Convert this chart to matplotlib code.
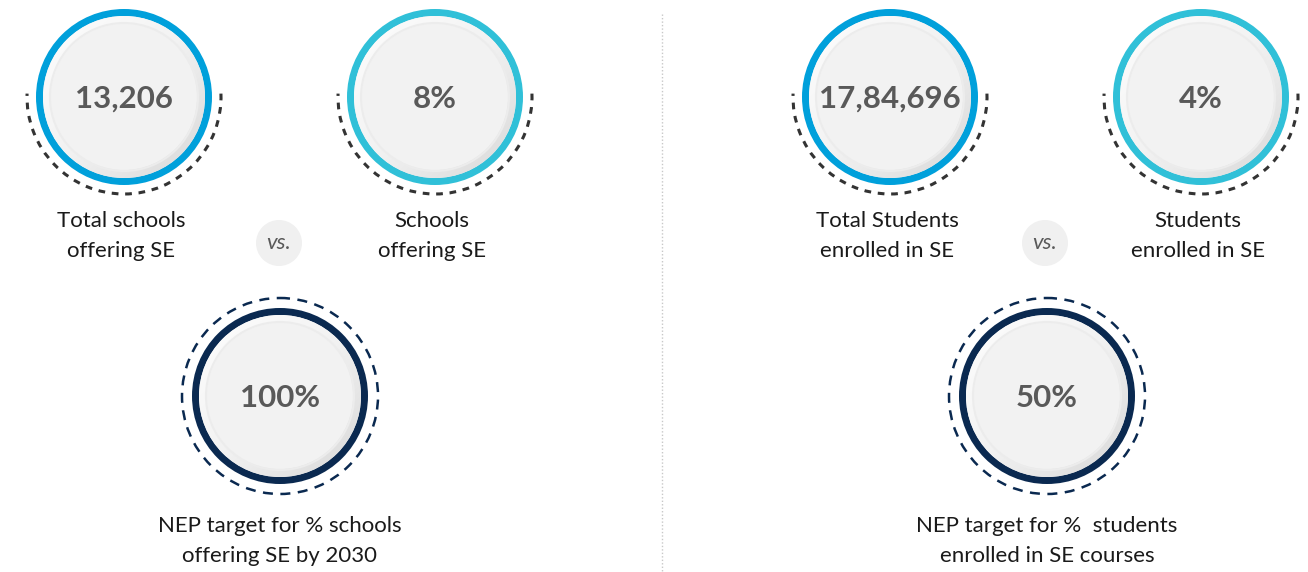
import numpy as np
import matplotlib
matplotlib.use('Agg')
import matplotlib.pyplot as plt
from matplotlib.patches import Circle, Arc
from matplotlib.colors import LinearSegmentedColormap

plt.rcParams['font.family'] = ['Lato', 'DejaVu Sans']

# top row stats
top_values = ['13,206', '8%', '17,84,696', '4%']
top_labels = ['Total schools\noffering SE', 'Schools\noffering SE',
              'Total Students\nenrolled in SE', 'Students\nenrolled in SE']
# bottom row targets
target_values = ['100%', '50%']
target_labels = ['NEP target for % schools\noffering SE by 2030',
                 'NEP target for %  students\nenrolled in SE courses']
vs_text = 'vs.'

W, H = 1308, 572
fig = plt.figure(figsize=(W / 100, H / 100), dpi=100)
ax = fig.add_axes([0, 0, 1, 1])
ax.set_xlim(0, W)
ax.set_ylim(H, 0)
ax.set_aspect('equal')
ax.axis('off')

BLUE = '#00a0db'
TEAL = '#30c0d8'
NAVY = '#0a2950'
NUM_C = '#595959'
R = 88

# soft light-to-grey shading for the button look
shade = LinearSegmentedColormap.from_list('shade', ['#ffffff', '#f2f2f2', '#d6d6d6'])
gy, gx = np.mgrid[0:1:200j, 0:1:200j]
grad = 0.5 * gx + 0.5 * gy


def bubble(cx, cy, ring_col, value):
    ax.add_patch(Circle((cx, cy), R, facecolor=ring_col, edgecolor='none', zorder=2))
    inner = Circle((cx, cy), R - 7, facecolor='#f2f2f2', edgecolor='none', zorder=3)
    ax.add_patch(inner)
    im = ax.imshow(grad, cmap=shade, vmin=0, vmax=1,
                   extent=(cx - R, cx + R, cy + R, cy - R), zorder=3.5,
                   interpolation='bilinear')
    im.set_clip_path(inner)
    ax.add_patch(Circle((cx, cy), R - 15, facecolor='#f2f2f2', edgecolor='none', zorder=4))
    ax.add_patch(Circle((cx, cy), R - 14, facecolor='none', edgecolor='#ececec', lw=1.5, zorder=4))
    ax.text(cx, cy + 2, value, ha='center', va='center', fontsize=22.5,
            fontweight='bold', color=NUM_C, zorder=5)


top_x = [124, 435, 890, 1201]
top_y = 97
top_colors = [BLUE, TEAL, BLUE, TEAL]
for x, v, lab, c in zip(top_x, top_values, top_labels, top_colors):
    bubble(x, top_y, c, v)
    ax.add_patch(Arc((x, top_y), 2 * 97, 2 * 97, theta1=-2, theta2=182,
                     color='#333333', lw=2.2, ls=(0, (2.2, 2.2)), zorder=1))
    ax.text(x - 3, 236, lab, ha='center', va='center', fontsize=16,
            color='#1a1a1a', linespacing=1.65)

bot_x = [280, 1047]
bot_y = 396
for x, v, lab in zip(bot_x, target_values, target_labels):
    bubble(x, bot_y, NAVY, v)
    ax.add_patch(Circle((x, bot_y), 98, facecolor='none', edgecolor=NAVY,
                        lw=1.8, ls=(0, (4, 3)), zorder=1))
    ax.text(x, 541, lab, ha='center', va='center', fontsize=16,
            color='#1a1a1a', linespacing=1.65)

for x in [279, 1045]:
    ax.add_patch(Circle((x, 243), 23, facecolor='#f0f0f0', edgecolor='none', zorder=2))
    ax.text(x, 243, vs_text, ha='center', va='center', fontsize=16,
            style='italic', color=NUM_C, zorder=3)

ax.plot([662, 662], [14, H], color='#c8c8c8', lw=1, ls=(0, (1, 1.5)))

fig.savefig('out.png', dpi=100)
